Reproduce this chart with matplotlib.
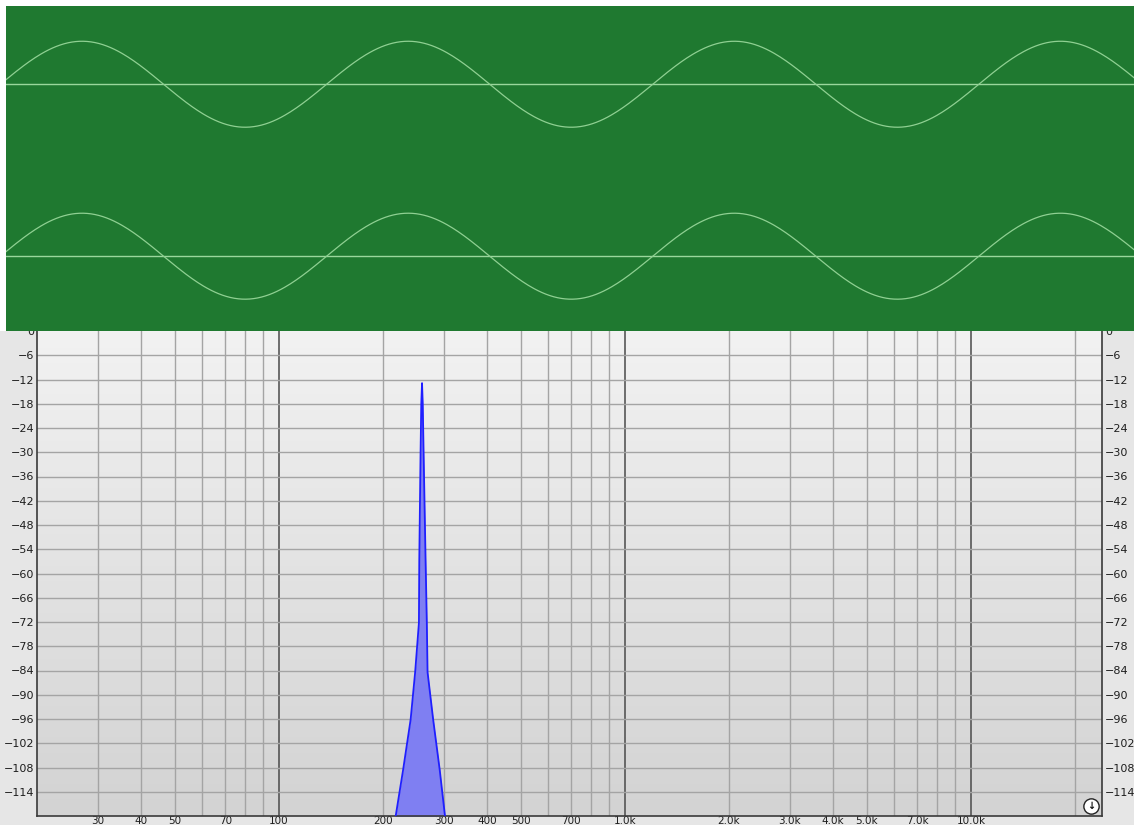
import numpy as np
import matplotlib.pyplot as plt
from matplotlib.patches import Rectangle

# test tone shown in the stereo track (both channels identical)
tone_hz = 261.63
tone_amp = 0.5
view_ms = 13.22
start_phase = 0.106
sample_rate = 44100

# spectrum outline around the tone (Hz, dB)
peak_freq = [213.0, 217.8, 228.6, 240.3, 247.7, 254.0, 254.6, 256.8, 258.0,
             259.3, 260.5, 262.0, 265.5, 267.7, 269.0, 279.3, 291.7, 301.9, 306.0]
peak_db = [-125.0, -119.8, -108.6, -96.2, -84.4, -72.2, -56.7, -30.0, -18.0,
           -12.9, -18.0, -30.0, -56.7, -72.2, -84.4, -96.2, -108.6, -119.8, -125.0]

freq_ticks = [30, 40, 50, 70, 100, 200, 300, 400, 500, 700,
              1000, 2000, 3000, 4000, 5000, 7000, 10000]
freq_labels = ['30', '40', '50', '70', '100', '200', '300', '400', '500', '700',
               '1.0k', '2.0k', '3.0k', '4.0k', '5.0k', '7.0k', '10.0k']
grid_freqs = [30, 40, 50, 60, 70, 80, 90, 200, 300, 400, 500, 600, 700, 800, 900,
              2000, 3000, 4000, 5000, 6000, 7000, 8000, 9000, 20000]
decade_freqs = [100, 1000, 10000]
db_ticks = list(range(0, -120, -6))

W, H = 1134, 825
fig = plt.figure(figsize=(W / 100, H / 100), dpi=100, facecolor='#e6e6e6')
fig.patches.append(Rectangle((0, (H - 331) / H), 1, 331 / H, transform=fig.transFigure,
                             facecolor='white', edgecolor='none', zorder=0))

# ---- waveform track ----
wax = fig.add_axes([6 / W, (H - 331) / H, 1128 / W, 325 / H], zorder=5)
wax.set_facecolor('#1f7930')
t = np.arange(0, view_ms / 1000, 1 / sample_rate)
wave = tone_amp * np.sin(2 * np.pi * tone_hz * t + start_phase)
for offset in (1.0, -1.0):
    wax.axhline(offset, color='#9ad79c', lw=1.0)
    wax.plot(t * 1000, wave + offset, color='#8fd092', lw=0.9)
wax.set_xlim(0, view_ms)
wax.set_ylim(-1.87, 1.91)
wax.set_xticks([])
wax.set_yticks([])
for s in wax.spines.values():
    s.set_visible(False)

# ---- spectrum ----
ax = fig.add_axes([37 / W, (H - 816) / H, 1065 / W, 485 / H], zorder=1)
ax.set_xscale('log')
ax.set_xlim(20, 23930)
ax.set_ylim(-120, 0)

grad = np.linspace(0, 1, 256).reshape(-1, 1)
ax.imshow(grad, extent=[0, 1, 0, 1], transform=ax.transAxes, aspect='auto',
          cmap=plt.matplotlib.colors.LinearSegmentedColormap.from_list(
              'bg', ['#f2f2f2', '#d3d3d3']), zorder=0)

for f in grid_freqs:
    ax.axvline(f, color='#a4a4a4', lw=1.0, zorder=1)
for f in decade_freqs:
    ax.axvline(f, color='#4a4a4a', lw=1.1, zorder=1)
for d in db_ticks[1:]:
    ax.axhline(d, color='#a4a4a4', lw=1.0, zorder=1)

ax.fill_between(peak_freq, peak_db, -130, color='#7f7ff2', lw=0, zorder=2)
ax.plot(peak_freq, peak_db, color='#1f1fff', lw=1.3, zorder=3)

ax.set_xticks(freq_ticks)
ax.set_xticklabels(freq_labels)
ax.xaxis.set_minor_locator(plt.NullLocator())
ax.set_yticks(db_ticks)
ax.set_yticklabels([str(d).replace('-', '\u2212') for d in db_ticks])
ax.tick_params(axis='both', length=0, labelsize=8, colors='#1e1e1e')
ax.tick_params(axis='x', pad=0, labelsize=7.5)
ax.tick_params(axis='y', pad=2, right=True, labelright=True)

for name in ('left', 'bottom', 'right'):
    ax.spines[name].set_color('#3a3a3a')
    ax.spines[name].set_linewidth(1.2)
ax.spines['top'].set_visible(False)

# small scroll icon in the lower right corner
ax.plot([0.9897], [0.021], marker='o', ms=11, mfc='white', mec='#222222', mew=1.0,
        transform=ax.transAxes, zorder=6, clip_on=False)
ax.text(0.9897, 0.021, '\u2193', transform=ax.transAxes, ha='center', va='center',
        fontsize=7, color='#111111', zorder=7, fontweight='bold')

fig.savefig('out.png', dpi=100, facecolor=fig.get_facecolor())
